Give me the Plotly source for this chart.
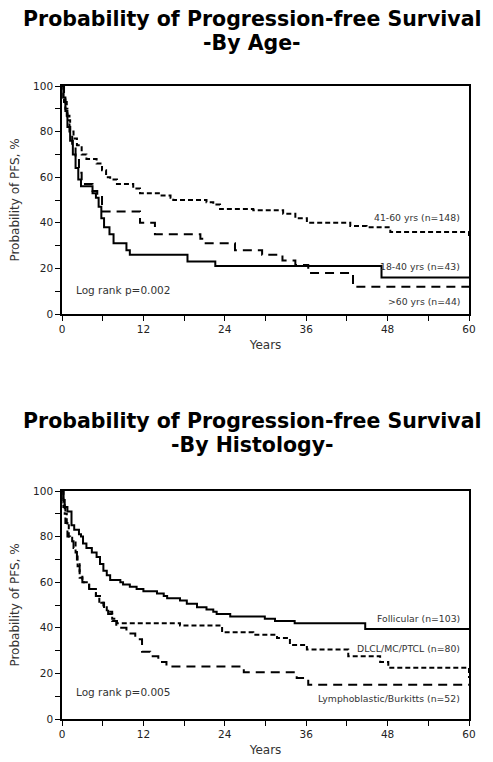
import plotly.graph_objects as go

# ---------------- data ----------------
x_tickvals = [0, 6, 12, 18, 24, 30, 36, 42, 48, 54, 60]
x_ticktext = ["0", "", "12", "", "24", "", "36", "", "48", "", "60"]
y_tickvals = [0, 10, 20, 30, 40, 50, 60, 70, 80, 90, 100]
y_ticktext = ["0", "", "20", "", "40", "", "60", "", "80", "", "100"]

# Top panel: by age
age_18_40_t = [0, 0.2, 0.5, 0.8, 1.2, 1.6, 2.0, 2.4, 2.8, 4.5, 5.0, 5.4, 5.8, 6.2, 7.0, 7.6, 9.5, 10.0, 18.5, 22.6, 47.1, 60]
age_18_40_s = [100, 95, 89, 82, 76, 70, 64, 59, 56, 53, 51, 47, 42, 38, 35, 31, 28, 26, 23, 21, 16, 16]

age_41_60_t = [0, 0.2, 0.5, 0.8, 1.2, 1.7, 2.2, 2.9, 3.6, 5.1, 5.9, 6.5, 7.1, 8.1, 10.5, 11.5, 14.5, 16.0, 16.4,
               21.3, 22.3, 23.3, 28.2, 32.6, 34.4, 36.1, 42.5, 44.9, 48.4, 60, 60]
age_41_60_s = [100, 95, 90, 85, 80, 77, 74, 70, 68, 66, 63, 60, 59, 57, 55, 53, 52, 51, 50,
               49, 48, 46, 45.5, 44, 42, 40, 38.6, 38, 36, 36, 34]

age_60p_t = [0, 0.3, 0.7, 1.1, 1.5, 2.0, 2.5, 2.9, 4.5, 5.2, 5.9, 11.5, 13.7, 20.4, 21.0, 25.5, 29.5, 32.5, 34.4, 36.3, 42.9, 60]
age_60p_s = [100, 93, 87, 80, 74, 68, 62, 57, 54, 52, 45, 40, 35, 33, 31, 28, 26, 23.5, 21.5, 18, 12, 12]

# Bottom panel: by histology
foll_t = [0, 0.2, 0.4, 0.8, 1.4, 1.8, 2.5, 2.8, 3.1, 3.6, 4.4, 5.1, 5.6, 6.1, 6.6, 7.1, 8.6, 9.0, 10.0, 11.0,
          12.0, 14.0, 15.0, 15.5, 17.4, 18.4, 19.9, 21.3, 22.3, 22.8, 24.8, 29.9, 31.4, 34.3, 44.7, 60]
foll_s = [100, 96, 93, 91, 85, 83, 81, 80, 77, 75, 73, 71, 68, 65, 63, 61, 60, 59, 58, 57,
          56, 55, 54, 53, 52, 50.5, 49, 48, 47, 46, 45, 44, 43, 42, 39.5, 39.5]

dlcl_t = [0, 0.2, 0.4, 0.7, 1.0, 1.5, 2.0, 2.3, 2.6, 3.0, 4.0, 5.0, 5.5, 6.1, 6.6, 7.4, 8.1, 17.4, 23.6,
          28.2, 31.7, 33.6, 36.1, 42.2, 46.9, 48.1, 60, 60]
dlcl_s = [100, 95, 90, 85, 80, 78, 73, 67, 62, 60, 57, 54, 51, 49, 47, 44, 42, 41, 38,
          37, 35.5, 32.5, 30.5, 27.5, 25, 22.5, 22.5, 18]

lymph_t = [0, 0.2, 0.5, 0.8, 1.2, 1.7, 2.2, 2.6, 3.0, 4.0, 5.0, 5.6, 6.2, 6.8, 7.4, 8.0, 9.5, 10.8, 11.8,
           13.0, 14.2, 15.4, 26.8, 34.6, 36.3, 60]
lymph_s = [100, 93, 86, 80, 78, 75, 70, 64, 60, 57, 54, 51, 48, 46, 43, 40, 37.5, 35, 29.5,
           27.5, 25, 23, 20.5, 18, 15, 15]

# ---------------- figure ----------------
W, H = 493, 762
ML, MR, MT, MB = 62, 24, 86, 43
plot_h = H - MT - MB
plot_w = W - ML - MR
def py(p):  # pixel row -> paper y
    return (H - MB - p) / plot_h
def px(p):  # pixel column -> paper x
    return (p - ML) / plot_w

fig = go.Figure()
BLACK = "#000000"
SHORT = "5px,3px"
LONG = "9px,6px"

def add(t, s, dash, xa, ya):
    fig.add_trace(go.Scatter(x=t, y=s, mode="lines", line=dict(color=BLACK, width=2, dash=dash, shape="hv"),
                             xaxis=xa, yaxis=ya, showlegend=False, hoverinfo="skip"))

add(age_41_60_t, age_41_60_s, SHORT, "x", "y")
add(age_60p_t, age_60p_s, LONG, "x", "y")
add(age_18_40_t, age_18_40_s, "solid", "x", "y")
add(dlcl_t, dlcl_s, SHORT, "x2", "y2")
add(lymph_t, lymph_s, LONG, "x2", "y2")
add(foll_t, foll_s, "solid", "x2", "y2")

FONT = "DejaVu Sans"
tickfont = dict(family=FONT, size=10.5, color="#222222")
titlefont = dict(family=FONT, size=12, color="#333333")

def xaxis(anchor):
    return dict(range=[0, 60], tickvals=x_tickvals, ticktext=x_ticktext, ticks="outside", ticklen=5,
                tickwidth=1, tickcolor=BLACK, showline=True, linewidth=1.5, linecolor=BLACK, mirror=True,
                showgrid=False, zeroline=False, tickfont=tickfont, anchor=anchor, automargin=False,
                title=dict(text="Years", font=titlefont, standoff=6))

def yaxis(anchor, dom):
    return dict(range=[0, 100], tickvals=y_tickvals, ticktext=y_ticktext, ticks="outside", ticklen=5,
                tickwidth=1, tickcolor=BLACK, showline=True, linewidth=1.5, linecolor=BLACK, mirror=True,
                showgrid=False, zeroline=False, tickfont=tickfont, anchor=anchor, domain=dom, automargin=False,
                title=dict(text="Probability of PFS, %", font=titlefont, standoff=11))

top_dom = [py(314), py(86)]
bot_dom = [py(719), py(491)]

fig.update_layout(
    width=W, height=H, margin=dict(l=ML, r=MR, t=MT, b=MB),
    paper_bgcolor="white", plot_bgcolor="white",
    xaxis=xaxis("y"), yaxis=yaxis("x", top_dom),
    xaxis2=xaxis("y2"), yaxis2=yaxis("x2", bot_dom),
)

ann = []
def title(text, p):
    ann.append(dict(text="<b>" + text + "</b>", x=px(252), xref="paper", xanchor="center", y=py(p), yref="paper",
                    yanchor="middle", showarrow=False, font=dict(family=FONT, size=20.5, color="#000000")))
title("Probability of Progression-free Survival", 19)
title("-By Age-", 43)
title("Probability of Progression-free Survival", 421)
title("-By Histology-", 445)

lab = dict(family=FONT, size=9.3, color="#333333")
lr = dict(family=FONT, size=10.5, color="#333333")
def label(text, x, y, xa, ya, xanchor="right", font=lab):
    ann.append(dict(text=text, x=x, y=y, xref=xa, yref=ya, xanchor=xanchor, yanchor="middle",
                    showarrow=False, font=font))

label("41-60 yrs (n=148)", 59.0, 42.5, "x", "y")
label("18-40 yrs (n=43)", 59.0, 21, "x", "y")
label(">60 yrs (n=44)", 59.0, 5.7, "x", "y")
label("Log rank p=0.002", 1.7, 10.5, "x", "y", "left", lr)
label("Follicular (n=103)", 59.0, 44.3, "x2", "y2")
label("DLCL/MC/PTCL (n=80)", 59.0, 31.1, "x2", "y2")
label("Lymphoblastic/Burkitts (n=52)", 59.0, 9.2, "x2", "y2")
label("Log rank p=0.005", 1.7, 11.8, "x2", "y2", "left", lr)

fig.update_layout(annotations=ann)
fig.write_html("out.html", config={"displayModeBar": False},
               post_script="document.body.style.margin='0';document.body.style.overflow='hidden';")
